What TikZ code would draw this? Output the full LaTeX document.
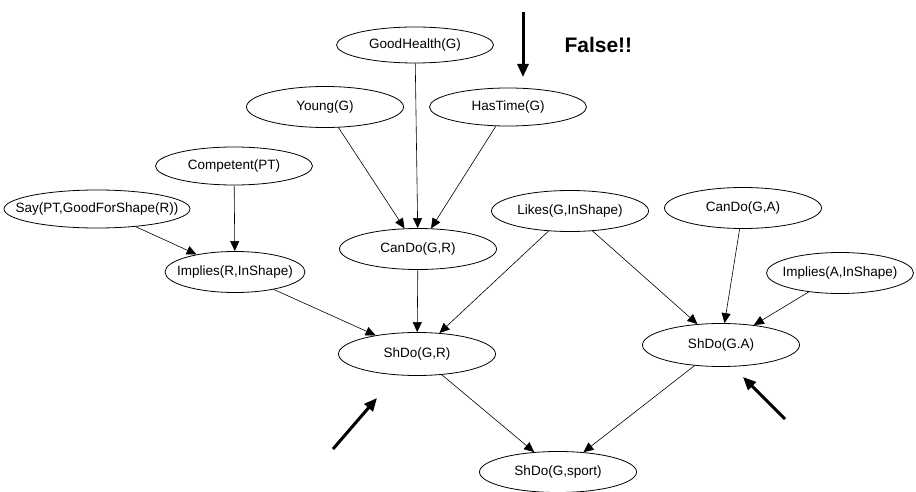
\documentclass[tikz,border=0pt]{standalone}
\usepackage{fontspec}
\setmainfont{Liberation Sans}
\usetikzlibrary{shapes.geometric,arrows.meta}

\begin{document}
\begin{tikzpicture}[x=1pt,y=-1pt,>={Triangle[length=10pt,width=9pt]},
  var/.style={draw,ellipse,line width=0.8pt,inner xsep=-30pt,inner ysep=0pt,
    minimum width=157pt,minimum height=41pt,font=\fontsize{13.5}{16}\selectfont},
  link/.style={->,line width=0.6pt},
  hint/.style={-{Triangle[length=13pt,width=11pt]},line width=3pt}]
  \useasboundingbox (0,0) rectangle (916,492);
  % causes of CanDo(G,R)
  \node[var,minimum height=36pt] (goodhealth) at (415,45) {GoodHealth(G)};
  \node[var] (young) at (325,107) {Young(G)};
  \node[var,minimum height=38pt] (hastime) at (508,107) {HasTime(G)};
  \node[var,minimum height=38pt] (competent) at (234,166) {Competent(PT)};
  \node[var,minimum width=186pt,minimum height=38pt] (say) at (97,209) {Say(PT,GoodForShape(R))};
  \node[var,minimum width=140pt] (impliesr) at (235,272) {Implies(R,InShape)};
  \node[var] (cando) at (418,249) {CanDo(G,R)};
  % right side
  \node[var] (likes) at (570,211) {Likes(G,InShape)};
  \node[var] (candoa) at (743,208) {CanDo(G,A)};
  \node[var,minimum width=147pt] (impliesa) at (840,273) {Implies(A,InShape)};
  \node[var,minimum height=43pt] (shdor) at (417,354) {ShDo(G,R)};
  \node[var,minimum height=43pt] (shdoa) at (721,345) {ShDo(G.A)};
  \node[var] (sport) at (558,472) {ShDo(G,sport)};
  % links
  \draw[link] (say) -- (impliesr);
  \draw[link] (competent) -- (impliesr);
  \draw[link] (young) -- (cando);
  \draw[link] (goodhealth) -- (cando);
  \draw[link] (hastime) -- (cando);
  \draw[link] (impliesr) -- (shdor);
  \draw[link] (cando) -- (shdor);
  \draw[link] (likes) -- (shdor);
  \draw[link] (likes) -- (shdoa);
  \draw[link] (candoa) -- (shdoa);
  \draw[link] (impliesa) -- (shdoa);
  \draw[link] (shdor) -- (sport);
  \draw[link] (shdoa) -- (sport);
  % marks
  \node[anchor=base west,font=\fontsize{21}{25}\selectfont\bfseries] (false) at (561,53) {False!!};
  \coordinate (topa) at (523,12);
  \coordinate (topb) at (523,77);
  \coordinate (lefta) at (333,449);
  \coordinate (leftb) at (377,398);
  \coordinate (righta) at (785,419);
  \coordinate (rightb) at (743,377);
  \draw[hint] (topa) -- (topb);
  \draw[hint] (lefta) -- (leftb);
  \draw[hint] (righta) -- (rightb);
\end{tikzpicture}
\end{document}
